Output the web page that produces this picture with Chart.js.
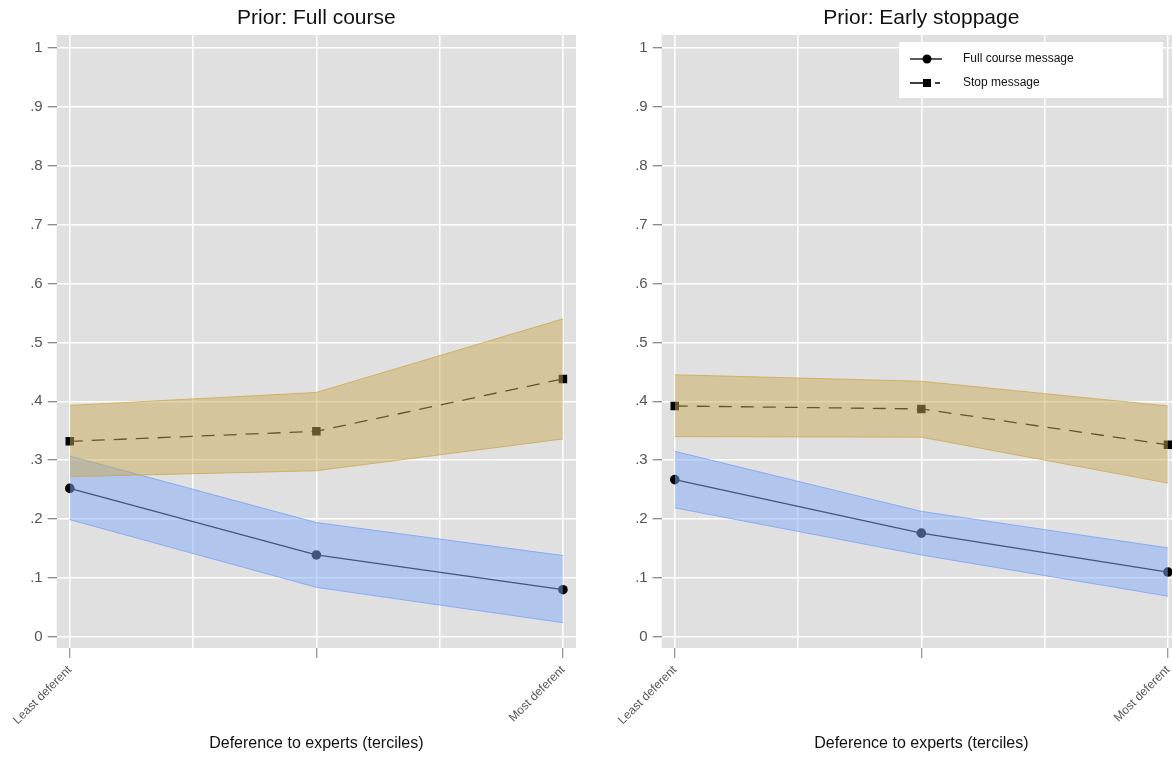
<!DOCTYPE html>
<html><head><meta charset="utf-8">
<script src="https://cdn.jsdelivr.net/npm/chart.js@4.4.1/dist/chart.umd.min.js"></script>
<style>
html,body{margin:0;padding:0;background:#fff;overflow:hidden;width:1172px;height:757px;}
.panel{position:absolute;top:0;width:582px;height:757px;}
#p1{left:0;} #p2{left:605px;}
</style></head><body>
<div class="panel" id="p1"><canvas id="c1" width="582" height="757"></canvas></div>
<div class="panel" id="p2"><canvas id="c2" width="582" height="757"></canvas></div>
<script>
// ---- data ----
const terciles = [1, 2, 3];
const tercileLabels = ['Least deferent', '', 'Most deferent'];
const gridPositions = [1, 1.5, 2, 2.5, 3];
const yTickValues = [0, 0.1, 0.2, 0.3, 0.4, 0.5, 0.6, 0.7, 0.8, 0.9, 1];
const yTickLabels = ['0', '.1', '.2', '.3', '.4', '.5', '.6', '.7', '.8', '.9', '1'];
const panelTitles = ['Prior: Full course', 'Prior: Early stoppage'];
const seriesNames = ['Full course message', 'Stop message'];

// Panel 1: Prior full course
const p1Full   = [0.252, 0.139, 0.080];
const p1FullHi = [0.307, 0.194, 0.138];
const p1FullLo = [0.199, 0.084, 0.024];
const p1Stop   = [0.332, 0.349, 0.438];
const p1StopHi = [0.393, 0.415, 0.540];
const p1StopLo = [0.272, 0.282, 0.336];

// Panel 2: Prior early stoppage
const p2Full   = [0.267, 0.176, 0.110];
const p2FullHi = [0.315, 0.213, 0.151];
const p2FullLo = [0.219, 0.139, 0.069];
const p2Stop   = [0.392, 0.387, 0.326];
const p2StopHi = [0.445, 0.434, 0.392];
const p2StopLo = [0.340, 0.339, 0.261];

const FONT = "'Liberation Sans', Arial, Helvetica, sans-serif";
const pts = arr => arr.map((v, i) => ({x: terciles[i], y: v}));

const bgPlugin = {
  id: 'bg',
  beforeDraw(chart) {
    const a = chart.chartArea, c = chart.ctx;
    c.save(); c.fillStyle = '#e0e0e0';
    c.fillRect(a.left, a.top, a.right - a.left, a.bottom - a.top);
    c.restore();
  }
};
const titlePlugin = {
  id: 'ptitle',
  afterDraw(chart, args, opts) {
    const a = chart.chartArea, c = chart.ctx;
    c.save();
    c.font = '21px ' + FONT; c.fillStyle = '#111';
    c.textAlign = 'center'; c.textBaseline = 'middle';
    c.fillText(opts.text, (a.left + a.right) / 2, 18);
    c.restore();
  }
};
const legendPlugin = {
  id: 'plegend',
  afterDraw(chart, args, opts) {
    if (!opts.show) return;
    const a = chart.chartArea, c = chart.ctx;
    const L = a.right - 282, T = a.top + 7, W = 264, H = 56;
    c.save();
    c.fillStyle = '#fff'; c.fillRect(L, T, W, H);
    c.strokeStyle = '#000'; c.fillStyle = '#000'; c.lineWidth = 1.3;
    // row 1
    let y = T + 17;
    c.beginPath(); c.moveTo(L + 11, y); c.lineTo(L + 43, y); c.stroke();
    c.beginPath(); c.arc(L + 28, y, 4.5, 0, Math.PI * 2); c.fill();
    // row 2
    y = T + 41;
    c.setLineDash([15, 10]);
    c.beginPath(); c.moveTo(L + 11, y); c.lineTo(L + 41, y); c.stroke();
    c.setLineDash([]);
    c.fillRect(L + 24, y - 4, 8, 8);
    c.font = '12px ' + FONT; c.fillStyle = '#111';
    c.textAlign = 'left'; c.textBaseline = 'middle';
    c.fillText(seriesNames[0], L + 64, T + 17);
    c.fillText(seriesNames[1], L + 64, T + 41);
    c.restore();
  }
};

function makeChart(id, title, full, fullHi, fullLo, stop, stopHi, stopLo, showLegend) {
  const blueFill = 'rgba(130,170,250,0.5)', blueLine = 'rgba(120,160,250,0.8)';
  const goldFill = 'rgba(200,170,90,0.5)', goldLine = 'rgba(205,165,70,0.75)';
  return new Chart(document.getElementById(id), {
    type: 'line',
    data: {
      datasets: [
        {data: pts(stopHi), fill: '+1', backgroundColor: goldFill, borderColor: goldLine, borderWidth: 1, pointRadius: 0, order: 0},
        {data: pts(stopLo), fill: false, borderColor: goldLine, borderWidth: 1, pointRadius: 0, order: 0},
        {data: pts(fullHi), fill: '+1', backgroundColor: blueFill, borderColor: blueLine, borderWidth: 1, pointRadius: 0, order: 1},
        {data: pts(fullLo), fill: false, borderColor: blueLine, borderWidth: 1, pointRadius: 0, order: 1},
        {label: seriesNames[0], data: pts(full), fill: false, borderColor: '#000', borderWidth: 1.3,
         pointStyle: 'circle', pointRadius: 4.8, pointBackgroundColor: '#000', pointBorderWidth: 0, order: 2},
        {label: seriesNames[1], data: pts(stop), fill: false, borderColor: '#000', borderWidth: 1.3, borderDash: [13, 9],
         pointStyle: 'rect', pointRadius: 6, pointBackgroundColor: '#000', pointBorderWidth: 0, order: 2}
      ]
    },
    options: {
      responsive: false, animation: false,
      layout: {padding: {top: 35, right: 2, left: 0, bottom: 0}},
      plugins: {legend: {display: false}, tooltip: {enabled: false}, title: {display: false},
                ptitle: {text: title}, plegend: {show: showLegend}},
      scales: {
        x: {
          type: 'linear', min: 0.947, max: 3.053,
          afterBuildTicks: s => { s.ticks = gridPositions.map(v => ({value: v})); },
          afterFit: s => { s.height = 109; },
          border: {display: false},
          grid: {color: '#ffffff', lineWidth: 1.5, drawTicks: true, tickLength: 10, tickWidth: 1,
                 tickColor: ctx => (ctx.tick && terciles.includes(ctx.tick.value)) ? '#777' : 'rgba(0,0,0,0)'},
          ticks: {autoSkip: false, minRotation: 45, maxRotation: 45, padding: 5, color: '#555',
                  font: {family: FONT, size: 12},
                  callback: v => { const i = terciles.indexOf(v); return i >= 0 ? tercileLabels[i] : ''; }},
          title: {display: true, text: 'Deference to experts (terciles)', color: '#111',
                  font: {family: FONT, size: 16}, padding: {top: 0, bottom: 4}}
        },
        y: {
          type: 'linear', min: -0.019, max: 1.022,
          afterBuildTicks: s => { s.ticks = yTickValues.map(v => ({value: v})); },
          afterFit: s => { s.width = 56.7; },
          border: {display: false},
          grid: {color: '#ffffff', lineWidth: 1.5, tickLength: 9, tickWidth: 1, tickColor: '#666'},
          ticks: {padding: 5, color: '#555', font: {family: FONT, size: 15},
                  callback: (v, i) => yTickLabels[i]}
        }
      }
    },
    plugins: [bgPlugin, titlePlugin, legendPlugin]
  });
}

makeChart('c1', panelTitles[0], p1Full, p1FullHi, p1FullLo, p1Stop, p1StopHi, p1StopLo, false);
makeChart('c2', panelTitles[1], p2Full, p2FullHi, p2FullLo, p2Stop, p2StopHi, p2StopLo, true);
</script>
</body></html>
